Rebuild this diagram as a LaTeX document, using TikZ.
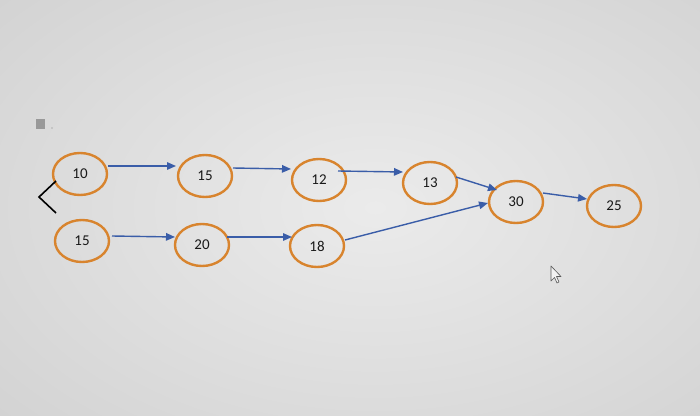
\documentclass[tikz,border=0pt]{standalone}
\usepackage{fontspec}
\setmainfont{Carlito}
\usetikzlibrary{arrows.meta,shapes.geometric,calc}
\definecolor{ringorange}{HTML}{D8842E}
\definecolor{arrowblue}{HTML}{3A5DA8}
\definecolor{bgmid}{HTML}{EBEBEB}
\definecolor{bgedge}{HTML}{D2D2D2}
\tikzset{
  vnode/.style={ellipse, draw=ringorange, line width=2.4pt, minimum width=54pt, minimum height=42pt, inner sep=0pt, font=\fontsize{15}{16}\selectfont, text=black!90},
  link/.style={draw=arrowblue, line width=1.4pt, -{Triangle[length=9pt,width=7.5pt]}},
}
\begin{document}
\begin{tikzpicture}[x=1pt,y=-1pt]
\useasboundingbox (0,0) rectangle (700,415);
\fill[bgedge] (0,0) rectangle (700,415);
\shade[inner color=bgmid, outer color=bgedge] (-150,-120) rectangle (900,535);
% small gray square
\fill[gray!80] (36,119) rectangle (45,129);
\fill[gray] (52,128) circle (0.7);
% nodes
\node[vnode] (a) at (80,174) {10};
\node[vnode] (b) at (205,176) {15};
\node[vnode] (c) at (319,180) {12};
\node[vnode] (d) at (430,183) {13};
\node[vnode] (e) at (516,202) {30};
\node[vnode] (f) at (614,206) {25};
\node[vnode] (g) at (82,241) {15};
\node[vnode] (h) at (202,245) {20};
\node[vnode] (i) at (317,246) {18};
% connectors
\draw[link] ($(a.center)+(28,-8)$) -- ($(b.center)+(-29,-10)$);
\draw[link] ($(b.center)+(28,-8)$) -- ($(c.center)+(-28,-11)$);
\draw[link] ($(c.center)+(19,-9)$) -- ($(d.center)+(-27,-11)$);
\draw[link] ($(d.center)+(26,-6)$) -- ($(e.center)+(-19,-12)$);
\draw[link] ($(i.center)+(28,-6)$) -- ($(e.center)+(-28,1)$);
\draw[link] ($(e.center)+(27,-9)$) -- ($(f.center)+(-27,-7)$);
\draw[link] ($(g.center)+(30,-5)$) -- ($(h.center)+(-27,-8)$);
\draw[link] ($(h.center)+(25,-8)$) -- ($(i.center)+(-25,-9)$);
% bracket
\coordinate (k1) at (56,181);
\coordinate (k2) at (39,197);
\coordinate (k3) at (56,213);
\draw[black, line width=1.6pt] (k1) -- (k2) -- (k3);
% mouse cursor
\draw[gray!70!black, line width=0.6pt, fill=white!90!gray, line join=round]
  (551,266) -- (551,281) -- (554.5,277.5) -- (557,283) -- (559,282) -- (556.5,276.5) -- (561,276.5) -- cycle;
\end{tikzpicture}
\end{document}
